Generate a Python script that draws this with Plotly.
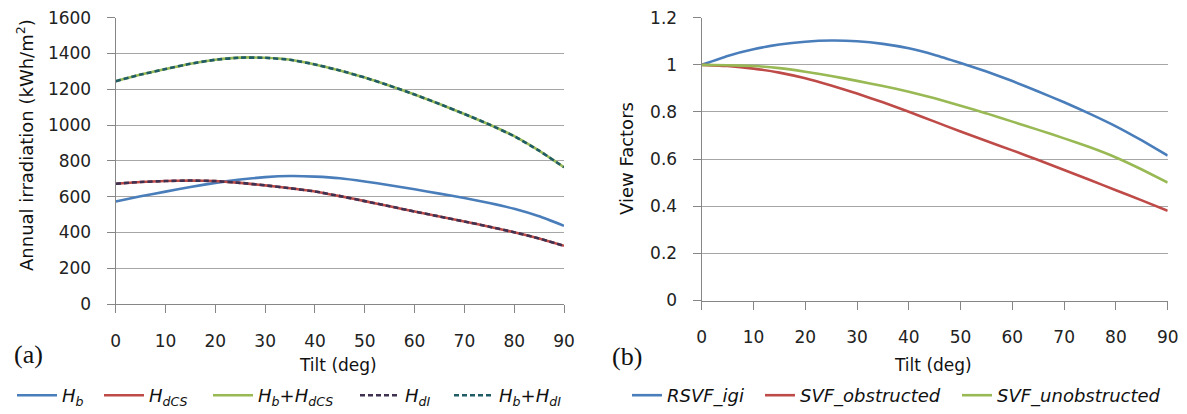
import plotly.graph_objects as go

tilt = [0, 5, 10, 15, 20, 25, 30, 35, 40, 45, 50, 55, 60, 65, 70, 75, 80, 85, 90]

H_b = [573, 602, 628, 654, 677, 696, 709, 715, 712, 703, 685, 664, 641, 617, 592, 564, 532, 490, 437]
H_dCS = [672, 682, 687, 690, 687, 677, 663, 647, 629, 603, 575, 546, 517, 489, 461, 432, 401, 366, 325]
H_b_dCS = [1245, 1282, 1313, 1343, 1365, 1377, 1376, 1365, 1339, 1305, 1266, 1220, 1171, 1118, 1062, 1003, 938, 857, 764]
H_dI = [672, 682, 687, 690, 687, 677, 663, 647, 629, 603, 575, 546, 517, 489, 461, 432, 401, 366, 325]
H_b_dI = [1245, 1282, 1313, 1343, 1365, 1377, 1376, 1365, 1339, 1305, 1266, 1220, 1171, 1118, 1062, 1003, 938, 857, 764]

RSVF_igi = [1.0, 1.038, 1.066, 1.086, 1.098, 1.103, 1.100, 1.089, 1.070, 1.042, 1.008, 0.972, 0.931, 0.887, 0.841, 0.792, 0.739, 0.679, 0.615]
SVF_obstructed = [1.0, 0.995, 0.984, 0.967, 0.943, 0.912, 0.878, 0.841, 0.801, 0.759, 0.717, 0.677, 0.637, 0.596, 0.554, 0.511, 0.468, 0.425, 0.381]
SVF_unobstructed = [1.0, 0.998, 0.995, 0.986, 0.971, 0.953, 0.932, 0.910, 0.886, 0.858, 0.826, 0.794, 0.759, 0.724, 0.688, 0.650, 0.607, 0.556, 0.500]

x_ticks = [0, 10, 20, 30, 40, 50, 60, 70, 80, 90]
y1_ticks = [0, 200, 400, 600, 800, 1000, 1200, 1400, 1600]
y2_ticks = [0, 0.2, 0.4, 0.6, 0.8, 1.0, 1.2]
y2_labels = ["0", "0.2", "0.4", "0.6", "0.8", "1", "1.2"]

BLUE = "#4A7EBB"
RED = "#BE4B48"
GREEN = "#98B954"
PURPLE = "#3F3151"
TEAL = "#1F5C66"
FONT = "DejaVu Sans"
W, H = 1187, 414

fig = go.Figure()

def add(x, y, name, color, xa, ya, legend, dash=None, width=2.6):
    fig.add_trace(go.Scatter(
        x=x, y=y, name=name, mode="lines", xaxis=xa, yaxis=ya, legend=legend,
        line=dict(color=color, width=width, dash=dash, shape="spline", smoothing=0.35),
    ))

add(tilt, H_b, "<i>H</i><sub><i>b</i></sub>", BLUE, "x", "y", "legend")
add(tilt, H_dCS, "<i>H</i><sub><i>dCS</i></sub>", RED, "x", "y", "legend2")
add(tilt, H_b_dCS, "<i>H</i><sub><i>b</i></sub><i>+H</i><sub><i>dCS</i></sub>", GREEN, "x", "y", "legend3")
add(tilt, H_dI, "<i>H</i><sub><i>dI</i></sub>", PURPLE, "x", "y", "legend4", dash="5px,3px")
add(tilt, H_b_dI, "<i>H</i><sub><i>b</i></sub><i>+H</i><sub><i>dI</i></sub>", TEAL, "x", "y", "legend5", dash="5px,3px")

add(tilt, RSVF_igi, "<i>RSVF_igi</i>", BLUE, "x2", "y2", "legend6")
add(tilt, SVF_obstructed, "<i>SVF_obstructed</i>", RED, "x2", "y2", "legend7")
add(tilt, SVF_unobstructed, "<i>SVF_unobstructed</i>", GREEN, "x2", "y2", "legend8")

AX = "#868686"
GRID = "#A6A6A6"
tickfont = dict(family=FONT, size=17, color="#222222")

def xaxis(domain, anchor):
    return dict(domain=domain, anchor=anchor, range=[0, 90], tickvals=x_ticks,
                showgrid=False, zeroline=False, showline=True, linecolor=AX, linewidth=1.3,
                ticks="outside", ticklen=8, tickcolor=AX, tickwidth=1.3,
                ticklabelstandoff=13, automargin=False,
                tickfont=tickfont, fixedrange=True)

def yaxis(domain, anchor, rng, vals, text=None):
    d = dict(domain=domain, anchor=anchor, range=rng, tickvals=vals,
             showgrid=True, gridcolor=GRID, gridwidth=1.3, zeroline=False,
             showline=True, linecolor=AX, linewidth=1.3,
             ticks="outside", ticklen=8, tickcolor=AX, tickwidth=1.3,
             ticklabelstandoff=12, automargin=False,
             tickfont=tickfont, fixedrange=True)
    if text:
        d["ticktext"] = text
    return d

x1d = [115.7 / W, 564.0 / W]
x2d = [701.7 / W, 1167.7 / W]
y1d = [1 - 304.0 / H, 1 - 17.7 / H]
y2d = [1 - 300.5 / H, 1 - 17.7 / H]

legfont = dict(family=FONT, size=18, color="#111111")

layout = dict(
    width=W, height=H,
    margin=dict(l=0, r=0, t=0, b=0),
    paper_bgcolor="white", plot_bgcolor="white",
    xaxis=xaxis(x1d, "y"),
    yaxis=yaxis(y1d, "x", [0, 1600], y1_ticks),
    xaxis2=xaxis(x2d, "y2"),
    yaxis2=yaxis(y2d, "x2", [0, 1.2], y2_ticks, y2_labels),
    showlegend=True,
)

# one legend per entry so each entry sits where the reference shows it
line_starts = [22, 109, 218, 365, 459, 637, 770, 967]
item_widths = [40, 40, 40, 40, 40, 30, 30, 30]
for i, (xs, iw) in enumerate(zip(line_starts, item_widths)):
    key = "legend" if i == 0 else f"legend{i + 1}"
    layout[key] = dict(orientation="h", x=(xs - 10) / W, y=0.0, xanchor="left", yanchor="bottom",
                       font=legfont, bgcolor="rgba(0,0,0,0)", itemwidth=iw)

fig.update_layout(**layout)

def ann(text, x, y, size=16, family=FONT, angle=0):
    fig.add_annotation(text=text, x=x / W, y=1 - y / H, xref="paper", yref="paper",
                       showarrow=False, textangle=angle, xanchor="center", yanchor="middle",
                       font=dict(family=family, size=size, color="#111111"))

ann("Annual irradiation (kWh/m<sup>2</sup>)", 25, 145, size=18, angle=-90)
ann("View Factors", 627, 159, size=18, angle=-90)
ann("Tilt (deg)", 338, 365, size=17)
ann("Tilt (deg)", 933, 365, size=17)
ann("(a)", 28, 354, size=26, family="Liberation Serif")
ann("(b)", 627, 356, size=26, family="Liberation Serif")

fig.write_html("out.html")
